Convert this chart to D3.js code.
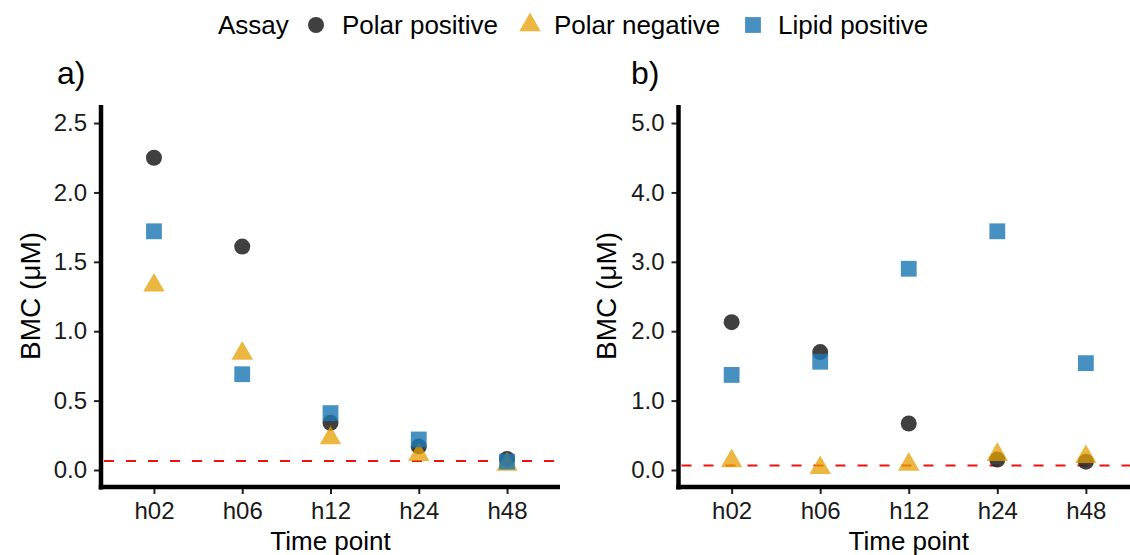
<!DOCTYPE html>
<html>
<head>
<meta charset="utf-8">
<script src="https://cdn.jsdelivr.net/npm/d3@7"></script>
<style>
  body { margin: 0; background: #fff; }
  svg { display: block; font-family: "Liberation Sans", Arial, sans-serif; }
</style>
</head>
<body>
<svg id="chart" width="1130" height="555"></svg>
<script>
// ---- Data ----
const categories = ["h02", "h06", "h12", "h24", "h48"];
const assays = ["Polar positive", "Polar negative", "Lipid positive"];

const aPolarPositive = [2.25, 1.61, 0.34, 0.17, 0.08];
const aPolarNegative = [1.33, 0.84, 0.23, 0.11, 0.04];
const aLipidPositive = [1.72, 0.69, 0.41, 0.22, 0.06];

const bPolarPositive = [2.13, 1.70, 0.67, 0.15, 0.12];
const bPolarNegative = [0.13, 0.03, 0.08, 0.22, 0.19];
const bLipidPositive = [1.37, 1.56, 2.90, 3.44, 1.54];

const threshold = 0.065;
const aTicks = [0, 0.5, 1.0, 1.5, 2.0, 2.5];
const bTicks = [0, 1, 2, 3, 4, 5];

// ---- Styles ----
const colors = { "Polar positive": "#2b2b2b", "Polar negative": "#E69F00", "Lipid positive": "#1f78b4" };
const opac = { "Polar positive": 0.9, "Polar negative": 0.75, "Lipid positive": 0.82 };
const shapes = { "Polar positive": d3.symbolCircle, "Polar negative": d3.symbolTriangle, "Lipid positive": d3.symbolSquare };
const sizes = { "Polar positive": 201, "Polar negative": 200, "Lipid positive": 250 };

const svg = d3.select("#chart");

function panel(cfg) {
  const g = svg.append("g");
  const x = d3.scalePoint().domain(categories).range([cfg.x0, cfg.x1]).padding(0.6);
  const y = d3.scaleLinear().domain(cfg.ydom).range([487, 105]);

  // y axis
  const ya = g.append("g").attr("transform", `translate(${cfg.x0},0)`)
    .call(d3.axisLeft(y).tickValues(cfg.ticks).tickFormat(d3.format(".1f")).tickSize(7).tickPadding(6));
  ya.select(".domain").remove();
  ya.selectAll(".tick line").attr("stroke", "#222").attr("stroke-width", 2);
  ya.selectAll(".tick text").attr("fill", "#1a1a1a").style("font-size", "24px").attr("dx", "-1px");

  // x axis
  const xa = g.append("g").attr("transform", `translate(0,487)`)
    .call(d3.axisBottom(x).tickSize(7).tickPadding(8));
  xa.select(".domain").remove();
  xa.selectAll(".tick line").attr("stroke", "#222").attr("stroke-width", 2);
  xa.selectAll(".tick text").attr("fill", "#1a1a1a").style("font-size", "24px");

  // axis lines (thick)
  g.append("line").attr("x1", cfg.x0).attr("x2", cfg.x0).attr("y1", 105).attr("y2", 489.5)
    .attr("stroke", "#000").attr("stroke-width", 4.5);
  g.append("line").attr("x1", cfg.x0 - 2.25).attr("x2", cfg.x1).attr("y1", 487).attr("y2", 487)
    .attr("stroke", "#000").attr("stroke-width", 4.5);

  // threshold line
  g.append("line").attr("x1", cfg.x0 + 3).attr("x2", cfg.x1).attr("y1", y(threshold)).attr("y2", y(threshold))
    .attr("stroke", "#ee1111").attr("stroke-width", 2.2).attr("stroke-dasharray", "10,12");

  // points
  const series = [
    ["Polar positive", cfg.pp],
    ["Polar negative", cfg.pn],
    ["Lipid positive", cfg.lp]
  ];
  series.forEach(([name, vals]) => {
    g.selectAll(null).data(vals).enter().append("path")
      .attr("d", d3.symbol().type(shapes[name]).size(sizes[name]))
      .attr("transform", (d, i) => `translate(${x(categories[i])},${y(d)})`)
      .attr("fill", colors[name]).attr("fill-opacity", opac[name]);
  });

  // axis titles
  g.append("text").attr("x", (cfg.x0 + cfg.x1v) / 2).attr("y", 550).attr("text-anchor", "middle")
    .style("font-size", "26px").attr("fill", "#000").text("Time point");
  g.append("text").attr("transform", `translate(${cfg.ytx},296) rotate(-90)`).attr("text-anchor", "middle")
    .style("font-size", "28px").attr("fill", "#000").text("BMC (\u03BCM)");

  // panel label
  g.append("text").attr("x", cfg.lx).attr("y", 84).style("font-size", "32px").attr("fill", "#000").text(cfg.label);
}

panel({ x0: 101, x1: 560, x1v: 560, ydom: [-0.1225, 2.63], ticks: aTicks,
        pp: aPolarPositive, pn: aPolarNegative, lp: aLipidPositive, ytx: 40, lx: 57, label: "a)" });
panel({ x0: 678.5, x1: 1139, x1v: 1139, ydom: [-0.245, 5.26], ticks: bTicks,
        pp: bPolarPositive, pn: bPolarNegative, lp: bLipidPositive, ytx: 616, lx: 631, label: "b)" });

// ---- Legend ----
const lg = svg.append("g");
lg.append("text").attr("x", 218).attr("y", 34).style("font-size", "26px").attr("fill", "#000").text("Assay");
const legendPos = [{ sx: 316, tx: 342 }, { sx: 530, tx: 554 }, { sx: 753, tx: 778 }];
assays.forEach((name, i) => {
  lg.append("path").attr("d", d3.symbol().type(shapes[name]).size(sizes[name]))
    .attr("transform", `translate(${legendPos[i].sx},25)`)
    .attr("fill", colors[name]).attr("fill-opacity", opac[name]);
  lg.append("text").attr("x", legendPos[i].tx).attr("y", 34).style("font-size", "26px").attr("fill", "#000").text(name);
});
</script>
</body>
</html>
